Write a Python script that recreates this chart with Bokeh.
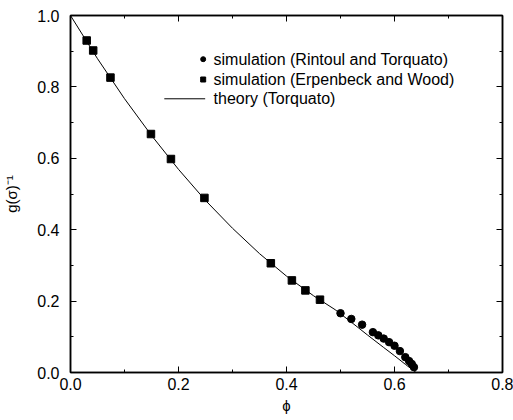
from bokeh.plotting import figure
from bokeh.models import LinearAxis, SingleIntervalTicker, PrintfTickFormatter, CustomJSTickFormatter, Range1d
from bokeh.core.properties import value
from bokeh.embed import file_html
from bokeh.resources import INLINE

# theory (Torquato) curve
theory_phi = [0.0, 0.05, 0.10, 0.15, 0.20, 0.25, 0.30, 0.35, 0.40, 0.45, 0.49, 0.52, 0.55, 0.58, 0.60, 0.62, 0.64]
theory_g = [1.0, 0.879, 0.767, 0.664, 0.569, 0.482, 0.404, 0.333, 0.270, 0.215, 0.176, 0.141, 0.105, 0.070, 0.047, 0.023, 0.0]

# simulation (Erpenbeck and Wood)
ew_phi = [0.030, 0.042, 0.074, 0.149, 0.186, 0.248, 0.371, 0.410, 0.435, 0.462]
ew_g = [0.930, 0.902, 0.826, 0.668, 0.598, 0.489, 0.306, 0.258, 0.230, 0.204]

# simulation (Rintoul and Torquato)
rt_phi = [0.500, 0.520, 0.540, 0.560, 0.570, 0.580, 0.590, 0.600, 0.610, 0.620, 0.627, 0.632, 0.636]
rt_g = [0.166, 0.150, 0.134, 0.113, 0.104, 0.095, 0.085, 0.075, 0.060, 0.043, 0.032, 0.024, 0.015]

legend_labels = ["simulation (Rintoul and Torquato)", "simulation (Erpenbeck and Wood)", "theory (Torquato)"]

FONT = "Liberation Sans"

p = figure(width=513, height=420, output_backend="svg", toolbar_location=None,
           x_range=Range1d(0, 0.8), y_range=Range1d(0, 1.0),
           x_axis_location=None, y_axis_location=None,
           min_border_left=69, min_border_right=11, min_border_top=15, min_border_bottom=48)
p.grid.visible = False
p.outline_line_color = "black"
p.outline_line_width = 1.5
p.background_fill_color = "white"
p.border_fill_color = "white"


def make_axis(labels=True, label=None):
    ax = LinearAxis(ticker=SingleIntervalTicker(interval=0.2, num_minor_ticks=2))
    ax.major_tick_in = 6
    ax.major_tick_out = 0
    ax.minor_tick_in = 3
    ax.minor_tick_out = 0
    ax.axis_line_width = 1.5
    ax.major_tick_line_width = 1
    ax.minor_tick_line_width = 1
    if labels:
        ax.formatter = PrintfTickFormatter(format="%.1f")
        ax.major_label_text_font = FONT
        ax.major_label_text_font_size = "16px"
        ax.major_label_text_color = "black"
    else:
        ax.formatter = CustomJSTickFormatter(code="return ''")
        ax.major_label_text_font_size = "0px"
        ax.major_label_standoff = 0
    if label:
        ax.axis_label = label
        ax.axis_label_text_font = FONT
        ax.axis_label_text_font_size = "15px"
        ax.axis_label_text_font_style = "normal"
        ax.axis_label_text_color = "black"
    return ax


xb = make_axis(True, "ϕ")
xb.major_label_standoff = 5
xb.axis_label_standoff = 4
p.add_layout(xb, "below")

yl = make_axis(True, "g(σ)⁻¹")
yl.major_label_standoff = 11
yl.axis_label_standoff = 14
p.add_layout(yl, "left")

p.add_layout(make_axis(False), "above")
p.add_layout(make_axis(False), "right")

# theory line
p.line(theory_phi, theory_g, line_color="black", line_width=1)
# data
p.scatter(ew_phi, ew_g, marker="square", size=7.5, fill_color="black", line_color="black")
p.scatter(rt_phi, rt_g, marker="circle", size=7.5, fill_color="black", line_color="black")

# legend (drawn manually)
lx_text = 0.2649
ly = [0.8776, 0.8207, 0.7667]
p.scatter([0.2457], [ly[0]], marker="circle", size=5, fill_color="black", line_color="black")
p.scatter([0.2457], [ly[1]], marker="square", size=5, fill_color="black", line_color="black")
p.line([0.1737, 0.2494], [ly[2], ly[2]], line_color="black", line_width=1)
p.text([lx_text] * 3, ly, text=legend_labels, text_font=value(FONT), text_font_size="16px",
       text_baseline="middle", text_align="left", text_color="black")

open("out.html", "w").write(file_html(p, INLINE))
